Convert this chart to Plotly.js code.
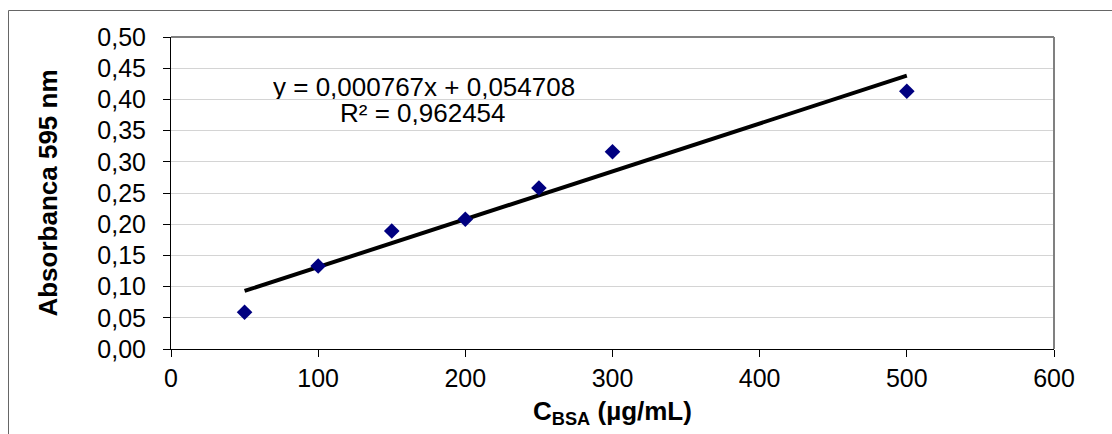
<!DOCTYPE html>
<html>
<head>
<meta charset="utf-8">
<script src="https://cdn.plot.ly/plotly-3.0.1.min.js"></script>
<style>
html,body{margin:0;padding:0;background:#fff;}
#chart{width:1112px;height:434px;}
</style>
</head>
<body>
<div id="chart"></div>
<script>
// Data
const concentrations = [50, 100, 150, 200, 250, 300, 500];
const absorbance = [0.059, 0.133, 0.189, 0.208, 0.258, 0.316, 0.413];
const trendX = [50, 500];
const trendY = [0.093, 0.438];
const equationLine = "y = 0,000767x + 0,054708";
const r2Line = "R² = 0,962454";
const xTitle = "C<sub>BSA</sub> (µg/mL)";
const yTitle = "Absorbanca 595 nm";

const W = 1112, H = 434;
const m = {l: 171, r: 58, t: 37, b: 85};
const pw = W - m.l - m.r, ph = H - m.t - m.b;
const px = v => (v - m.l) / pw;
const py = v => 1 - (v - m.t) / ph;

const font = "Liberation Sans, Arial, sans-serif";

const traces = [
  {
    x: trendX, y: trendY, type: 'scatter', mode: 'lines',
    line: {color: '#000000', width: 4},
    hoverinfo: 'skip', showlegend: false
  },
  {
    x: concentrations, y: absorbance, type: 'scatter', mode: 'markers',
    marker: {symbol: 'diamond', size: 12, color: '#000080'},
    showlegend: false
  }
];

const layout = {
  width: W, height: H,
  margin: m,
  paper_bgcolor: '#ffffff',
  plot_bgcolor: '#ffffff',
  separators: ',.',
  font: {family: font, size: 25, color: '#000'},
  xaxis: {
    range: [0, 600], dtick: 100, tick0: 0,
    showgrid: false, zeroline: false,
    showline: true, linecolor: '#000000', linewidth: 1,
    ticks: 'outside', ticklen: 7, tickcolor: '#000', tickwidth: 1,
    tickfont: {family: font, size: 25, color: '#000'},
    title: {text: xTitle, font: {family: font, size: 26, color: '#000', weight: 'bold'}, standoff: 10}
  },
  yaxis: {
    range: [0, 0.5], dtick: 0.05, tick0: 0, tickformat: '.2f',
    showgrid: true, gridcolor: '#d4d4d4', gridwidth: 1,
    zeroline: false,
    showline: true, linecolor: '#000000', linewidth: 1,
    ticks: 'outside', ticklen: 7, tickcolor: '#000', tickwidth: 1,
    ticklabelstandoff: 12,
    tickfont: {family: font, size: 25, color: '#000'},
    title: {text: yTitle, font: {family: font, size: 26, color: '#000', weight: 'bold'}, standoff: 32}
  },
  annotations: [
    {
      x: 172, y: 0.420, xref: 'x', yref: 'y',
      text: equationLine, showarrow: false, align: 'center',
      height: 24, borderpad: 0,
      font: {family: font, size: 26, color: '#000'}
    },
    {
      x: 171, y: 0.378, xref: 'x', yref: 'y',
      text: r2Line, showarrow: false, align: 'center',
      height: 24, borderpad: 0,
      font: {family: font, size: 26, color: '#000'}
    }
  ],
  shapes: [
    // outer chart frame
    {type: 'rect', xref: 'paper', yref: 'paper', x0: px(8.5), x1: px(1130), y0: py(10.5), y1: py(460),
     line: {color: '#666666', width: 1}, layer: 'below'},
    // plot area top border
    {type: 'line', xref: 'paper', yref: 'paper', x0: 0, x1: 1, y0: 1, y1: 1,
     line: {color: '#808080', width: 2}},
    // plot area right border
    {type: 'line', xref: 'paper', yref: 'paper', x0: 1, x1: 1, y0: 0, y1: 1,
     line: {color: '#808080', width: 2}}
  ]
};

Plotly.newPlot('chart', traces, layout, {displayModeBar: false, staticPlot: true});
</script>
</body>
</html>
